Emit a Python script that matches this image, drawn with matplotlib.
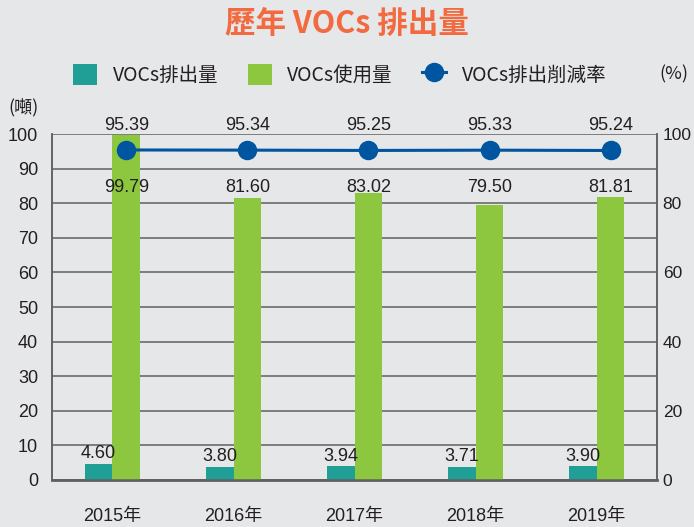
import numpy as np
import matplotlib.pyplot as plt

plt.rcParams['font.family'] = ['Liberation Sans', 'Noto Sans CJK TC', 'DejaVu Sans']

# Data
years = ['2015年', '2016年', '2017年', '2018年', '2019年']
emission = [4.60, 3.80, 3.94, 3.71, 3.90]
usage = [99.79, 81.60, 83.02, 79.50, 81.81]
reduction = [95.39, 95.34, 95.25, 95.33, 95.24]

bg = '#e6e7e9'
teal = '#1f9f95'
green = '#8dc63f'
blue = '#0055a0'
txt = '#231f20'
cjk = ['Noto Sans CJK TC', 'DejaVu Sans']

fig = plt.figure(figsize=(6.94, 5.27), dpi=100, facecolor=bg)
ax = fig.add_axes([0.0749, 0.0892, 0.872, 0.6565], facecolor=bg)
ax2 = ax.twinx()

x = np.arange(len(years))
w = 0.23
ax.bar(x - w / 2, emission, w, color=teal, zorder=3, label='VOCs排出量')
ax.bar(x + w / 2, usage, w, color=green, zorder=3, label='VOCs使用量')
ax2.plot(x + w / 2, reduction, color=blue, lw=2.2, marker='o', ms=13,
         zorder=4, label='VOCs排出削減率')

ax.set_xlim(-0.5, len(years) - 0.5)
ax.set_ylim(0, 100)
ax2.set_ylim(0, 100)
ax.set_yticks(range(0, 101, 10))
ax2.set_yticks(range(0, 101, 20))
ax.set_xticks(x)
ax.set_xticklabels(years)
ax.grid(axis='y', color='#606060', lw=1.1, zorder=0)
ax.set_axisbelow(True)

for a in (ax, ax2):
    a.tick_params(length=0, labelsize=13, colors=txt)
    for s in a.spines.values():
        s.set_color('#606060')
        s.set_linewidth(1.1)
    a.spines['top'].set_visible(False)
ax.spines['bottom'].set_linewidth(2)
ax.tick_params(axis='x', pad=20)
ax.tick_params(axis='y', pad=10)
ax2.tick_params(axis='y', pad=4, labelsize=12.5)

# value labels
for i in range(len(years)):
    ax.text(x[i] - w / 2, emission[i] + 0.5, f'{emission[i]:.2f}', ha='center',
            va='bottom', fontsize=13, color=txt, zorder=5)
    ax.text(x[i] + w / 2, 84.4, f'{usage[i]:.2f}', ha='center', va='center',
            fontsize=13, color=txt, zorder=5)
    ax.text(x[i] + w / 2, 102.6, f'{reduction[i]:.2f}', ha='center', va='center',
            fontsize=13, color=txt, zorder=5, clip_on=False)

fig.text(0.5, 0.955, '歷年 VOCs 排出量', ha='center', va='center', fontsize=22,
         fontweight='bold', color='#f26a3f', family=cjk)
fig.text(0.012, 0.795, '(噸)', fontsize=13, color=txt, va='center', family=cjk)
fig.text(0.950, 0.858, '(%)', fontsize=13, color=txt, va='center', family=cjk)

h1, l1 = ax.get_legend_handles_labels()
h2, l2 = ax2.get_legend_handles_labels()
leg = fig.legend(h1 + h2, l1 + l2, loc='center left', bbox_to_anchor=(0.105, 0.858),
                 ncol=3, frameon=False, fontsize=14, handlelength=1.25,
                 handleheight=1.3, columnspacing=1.5, handletextpad=0.8,
                 borderaxespad=0, borderpad=0)
for t in leg.get_texts():
    t.set_family(cjk)
    t.set_color(txt)

fig.savefig('out.png', dpi=100, facecolor=bg)
